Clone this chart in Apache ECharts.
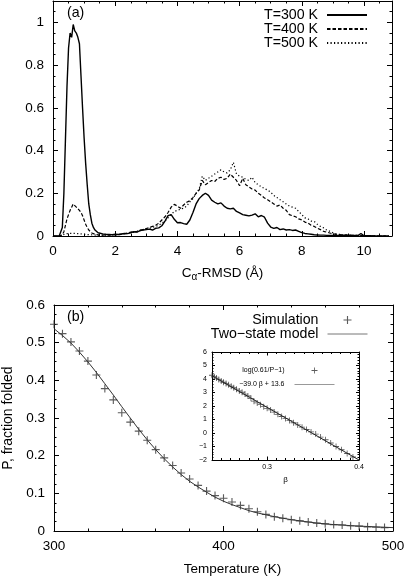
<!DOCTYPE html>
<html><head><meta charset="utf-8">
<script src="https://cdn.jsdelivr.net/npm/echarts@6/dist/echarts.min.js"></script>
<style>html,body{margin:0;padding:0;background:#fff}#c{width:408px;height:576px}</style>
</head><body><div id="c"></div>
<script>
// ---------- panel (a): C-alpha RMSD distributions ----------
const rmsd = [0,0.05,0.1,0.15,0.2,0.25,0.3,0.35,0.4,0.45,0.5,0.55,0.6,0.65,0.7,0.75,0.8,0.85,0.9,0.95,1.0,1.05,1.1,1.15,1.2,1.25,1.3,1.35,1.4,1.45,1.5,
  1.6,1.7,1.8,1.9,2.0,2.1,2.2,2.3,2.4,2.5,2.6,2.7,2.8,2.9,3.0,3.1,3.2,3.3,3.4,3.5,3.6,3.7,3.8,3.9,4.0,
  4.1,4.2,4.3,4.4,4.5,4.6,4.7,4.8,4.9,5.0,5.1,5.2,5.3,5.4,5.5,5.6,5.7,5.8,5.9,6.0,
  6.1,6.2,6.3,6.4,6.5,6.6,6.7,6.8,6.9,7.0,7.1,7.2,7.3,7.4,7.5,7.6,7.7,7.8,7.9,8.0,
  8.1,8.2,8.3,8.4,8.5,8.6,8.7,8.8,8.9,9.0,9.1,9.2,9.3,9.4,9.5,9.6,9.7,9.8,9.9,10.0,
  10.1,10.2,10.3,10.4,10.5,10.6,10.7,10.8];
const p300 = [0,0,0,0,0,0.005,0.04,0.2,0.45,0.7,0.88,0.95,0.93,0.99,0.96,0.95,0.93,0.9,0.75,0.6,0.46,0.34,0.24,0.15,0.1,0.06,0.04,0.028,0.02,0.015,0.012,
  0.01,0.008,0.007,0.006,0.008,
  0.007,0.01,0.012,0.011,0.016,0.02,0.018,0.025,0.028,0.03,
  0.032,0.028,0.036,0.038,0.048,0.07,0.095,0.1,0.078,0.062,
  0.063,0.058,0.055,0.075,0.11,0.15,0.175,0.19,0.2,0.19,
  0.168,0.158,0.15,0.155,0.14,0.13,0.127,0.13,0.115,0.108,
  0.1,0.097,0.094,0.098,0.104,0.09,0.096,0.088,0.06,0.042,
  0.036,0.04,0.03,0.033,0.028,0.03,0.026,0.028,0.022,0.016,
  0.012,0.01,0.008,0.006,0.005,0.004,0.004,0.003,0.003,0.003,
  0.002,0.003,0.002,0.002,0.002,0.001,0.002,0.001,0.012,0.001,
  0.001,0.001,0,0,0,0,0,0];
const p400 = [0,0,0,0,0,0,0.005,0.02,0.05,0.08,0.1,0.12,0.135,0.15,0.148,0.135,0.128,0.12,0.11,0.095,0.075,0.055,0.04,0.028,0.02,0.014,0.01,0.008,0.006,0.005,0.005,
  0.004,0.005,0.004,0.006,0.005,
  0.006,0.008,0.01,0.014,0.018,0.02,0.022,0.028,0.03,0.035,
  0.04,0.045,0.05,0.06,0.075,0.09,0.11,0.135,0.148,0.14,
  0.13,0.145,0.158,0.165,0.18,0.2,0.215,0.26,0.24,0.25,
  0.26,0.255,0.27,0.275,0.265,0.27,0.29,0.275,0.26,0.235,
  0.27,0.24,0.23,0.22,0.215,0.2,0.19,0.178,0.17,0.16,
  0.15,0.14,0.145,0.13,0.12,0.1,0.095,0.09,0.08,0.075,
  0.065,0.06,0.05,0.045,0.036,0.03,0.022,0.018,0.014,0.01,
  0.008,0.007,0.005,0.005,0.004,0.004,0.003,0.003,0.002,0.002,
  0.002,0.001,0.001,0,0,0,0,0];
const p500 = [0,0,0,0,0,0,0.004,0.008,0.01,0.01,0.012,0.01,0.012,0.011,0.012,0.01,0.011,0.01,0.01,0.009,0.008,0.008,0.007,0.006,0.006,0.005,0.005,0.005,0.004,0.004,0.004,
  0.004,0.004,0.005,0.005,0.006,
  0.006,0.008,0.01,0.012,0.015,0.018,0.02,0.025,0.03,0.033,
  0.036,0.04,0.045,0.05,0.06,0.07,0.085,0.1,0.115,0.12,
  0.125,0.13,0.14,0.16,0.175,0.2,0.22,0.28,0.26,0.27,
  0.28,0.29,0.3,0.31,0.3,0.295,0.31,0.345,0.29,0.28,
  0.275,0.265,0.26,0.275,0.25,0.24,0.23,0.222,0.215,0.205,
  0.19,0.18,0.17,0.16,0.15,0.14,0.135,0.13,0.115,0.1,
  0.085,0.08,0.07,0.068,0.055,0.045,0.038,0.028,0.022,0.015,
  0.01,0.008,0.006,0.005,0.004,0.004,0.003,0.003,0.002,0.002,
  0.001,0.001,0,0,0,0,0,0];

// ---------- panel (b): fraction folded ----------
const simT = [300,305,310,315,320,325,330,335,340,345,350,355,360,365,370,375,380,385,390,395,
  400,405,410,415,420,425,430,435,440,445,450,455,460,465,470,475,480,485,490,495];
const simP = [0.549,0.524,0.502,0.478,0.451,0.414,0.378,0.348,0.314,0.289,0.265,0.241,0.216,0.194,0.174,0.154,0.138,0.121,0.106,0.094,
  0.087,0.077,0.068,0.059,0.051,0.044,0.038,0.034,0.030,0.027,0.024,0.021,0.019,0.017,0.016,0.014,0.013,0.011,0.010,0.009];
const modelT = [300,305,310,315,320,325,330,335,340,345,350,355,360,365,370,375,380,385,390,395,
  400,405,410,415,420,425,430,435,440,445,450,455,460,465,470,475,480,485,490,495,500];
const modelP = [0.537,0.519,0.499,0.475,0.449,0.421,0.391,0.361,0.330,0.300,0.270,0.242,0.216,0.192,0.170,0.150,0.132,0.117,0.103,0.090,
  0.079,0.070,0.062,0.054,0.048,0.043,0.038,0.034,0.030,0.027,0.024,0.021,0.019,0.017,0.016,0.014,0.013,0.012,0.011,0.010,0.009];

// ---------- inset ----------
const beta = [0.4,0.3934,0.3871,0.381,0.375,0.3692,0.3636,0.3582,0.3529,0.3478,0.3429,0.338,0.3333,0.3288,0.3243,0.32,0.3158,0.3117,0.3077,0.3038,
  0.3,0.2963,0.2927,0.2892,0.2857,0.2824,0.2791,0.2759,0.2727,0.2697,0.2667,0.2637,0.2609,0.2581,0.2553,0.2526,0.25,0.2474,0.2449,0.2424,0.24];
const logRatio = [-2.05,-1.78,-1.52,-1.24,-1.0,-0.74,-0.5,-0.3,-0.08,0.08,0.26,0.43,0.6,0.76,0.92,1.08,1.22,1.38,1.55,1.71,
  1.83,1.95,2.1,2.23,2.36,2.57,2.74,2.88,3.02,3.12,3.25,3.35,3.46,3.57,3.66,3.76,3.86,3.97,4.07,4.17,4.28];
const fitBeta = [0.24, 0.4];
const fitVal = [4.24, -2.0];
const insetXLabels = [0.3, 0.4];

const FONT = '"Liberation Sans", Arial, Helvetica, sans-serif';
const FS = 13.5;
const LFS = 14.2;
const PLUS = 'path://M4.3,0H5.7V4.3H10V5.7H5.7V10H4.3V5.7H0V4.3H4.3Z';
const CLEAR = 'rgba(0,0,0,0)';

function axisSet(dim, grid, min, max, majorOpt, minorInterval, label, majorLen, minorLen, nameOpt) {
  const posA = dim === 'x' ? 'bottom' : 'left';
  const posB = dim === 'x' ? 'top' : 'right';
  const line = {show: true, onZero: false, lineStyle: {color: '#000', width: 1}};
  const mk = (pos, isMajor, withLabel) => {
    const a = {type: 'value', gridIndex: grid, min: min, max: max, position: pos,
      splitLine: {show: false},
      axisLine: isMajor ? line : {show: false, onZero: false},
      axisTick: Object.assign({show: true, inside: true, length: isMajor ? majorLen : minorLen,
        lineStyle: {color: '#000', width: 1}}, isMajor ? (majorOpt.tick || {}) : {}),
      axisLabel: withLabel ? label : {show: false}};
    if (isMajor) { if (majorOpt.interval != null) a.interval = majorOpt.interval; }
    else a.interval = minorInterval;
    if (withLabel && nameOpt) Object.assign(a, nameOpt);
    return a;
  };
  return [mk(posA, true, true), mk(posA, false, false), mk(posB, true, false), mk(posB, false, false)];
}

const lab = (extra) => Object.assign({color: '#000', fontSize: FS, fontFamily: FONT}, extra || {});

const xAxes = [].concat(
  axisSet('x', 0, 0, 10.9, {interval: 2}, 0.5, lab({margin: 8, showMaxLabel: false}), 5, 2.5,
    {name: 'C{s|α}-RMSD (Å)', nameLocation: 'middle', nameGap: 28,
     nameTextStyle: {color: '#000', fontSize: FS, fontFamily: FONT,
       rich: {s: {fontSize: 10, fontFamily: FONT, color: '#000', padding: [8, 0, 0, 0]}}}}),
  axisSet('x', 1, 300, 500, {interval: 100}, 20, lab({margin: 8}), 5, 2.5,
    {name: 'Temperature (K)', nameLocation: 'middle', nameGap: 31,
     nameTextStyle: {color: '#000', fontSize: FS, fontFamily: FONT, padding: [0, 0, 0, 18]}}),
  axisSet('x', 2, 0.24, 0.4, {tick: {customValues: insetXLabels}}, 0.01,
    lab({fontSize: 7, margin: 4, customValues: insetXLabels}), 3.5, 2,
    {name: 'β', nameLocation: 'middle', nameGap: 16,
     nameTextStyle: {color: '#000', fontSize: 8, fontFamily: FONT}})
);
const yAxes = [].concat(
  axisSet('y', 0, 0, 1.1, {interval: 0.2}, 0.05, lab({margin: 9, showMaxLabel: false}), 5, 2.5, null),
  axisSet('y', 1, 0, 0.6, {interval: 0.1}, 0.025, lab({margin: 9}), 5, 2.5,
    {name: 'P, fraction folded', nameLocation: 'middle', nameGap: 31,
     nameTextStyle: {color: '#000', fontSize: 14, fontFamily: FONT}}),
  axisSet('y', 2, -2, 6, {interval: 1}, 0.2,
    lab({fontSize: 7, margin: 5, formatter: v => String(v).replace('-', '\u2212')}), 3, 1.5, null)
);

const lineItem = (n, lc, lw) => {
  const o = {name: n, itemStyle: {opacity: 0, color: CLEAR, borderColor: CLEAR}};
  if (lc) o.lineStyle = {color: lc, width: lw || 1};
  return o;
};

const option = {
  animation: false,
  backgroundColor: '#fff',
  grid: [
    {left: 53, top: 1, width: 339, height: 235, outerBoundsMode: 'none'},
    {left: 54, top: 305, width: 339, height: 226, outerBoundsMode: 'none'},
    {left: 212, top: 352, width: 147, height: 108, outerBoundsMode: 'none', show: true,
     backgroundColor: '#fff', borderWidth: 0}
  ],
  xAxis: xAxes,
  yAxis: yAxes,
  legend: [
    {data: [lineItem('T=300 K'), lineItem('T=400 K'), lineItem('T=500 K')], orient: 'vertical', align: 'right', right: 35, top: 3,
     itemWidth: 40, itemHeight: 10, itemGap: 0, selectedMode: false,
     textStyle: {color: '#000', fontSize: LFS, fontFamily: FONT, padding: [0, 4, 0, 0]}},
    {data: [{name: 'Simulation', icon: PLUS}, lineItem('Two\u2212state model', '#777', 1)], orient: 'vertical', align: 'right',
     right: 35, top: 308, itemWidth: 40, itemHeight: 8, itemGap: 0, selectedMode: false,
     textStyle: {color: '#000', fontSize: LFS, fontFamily: FONT, padding: [0, 4, 0, 0]}},
    {data: [{name: 'log(0.61/P\u22121)', icon: PLUS}, lineItem('\u221239.0 \u03b2 + 13.6', '#999', 1)], orient: 'vertical', align: 'right',
     right: 68, top: 362, itemWidth: 40, itemHeight: 6, itemGap: 7, selectedMode: false,
     textStyle: {color: '#000', fontSize: 7, fontFamily: FONT, padding: [0, 5, 0, 0]}}
  ],
  graphic: [
    {type: 'text', left: 67, top: 6, style: {text: '(a)', fill: '#000', font: LFS + 'px ' + FONT}},
    {type: 'text', left: 67, top: 310, style: {text: '(b)', fill: '#000', font: LFS + 'px ' + FONT}}
  ],
  series: [
    {type: 'line', name: 'T=300 K', xAxisIndex: 0, yAxisIndex: 0, symbol: 'none',
     data: rmsd.map((x, i) => [x, p300[i]]),
     lineStyle: {color: '#000', width: 1.4, type: 'solid'}, itemStyle: {color: '#000'}},
    {type: 'line', name: 'T=400 K', xAxisIndex: 0, yAxisIndex: 0, symbol: 'none',
     data: rmsd.map((x, i) => [x, p400[i]]),
     lineStyle: {color: '#000', width: 1.2, type: [3.5, 2]}, itemStyle: {color: '#000'}},
    {type: 'line', name: 'T=500 K', xAxisIndex: 0, yAxisIndex: 0, symbol: 'none',
     data: rmsd.map((x, i) => [x, p500[i]]),
     lineStyle: {color: '#000', width: 1.2, type: [1.2, 2.3]}, itemStyle: {color: '#000'}},
    {type: 'line', name: 'Two\u2212state model', xAxisIndex: 4, yAxisIndex: 4, symbol: 'none',
     data: modelT.map((t, i) => [t, modelP[i]]),
     lineStyle: {color: '#333', width: 1}, itemStyle: {color: '#555'}},
    {type: 'scatter', name: 'Simulation', xAxisIndex: 4, yAxisIndex: 4, symbol: PLUS, symbolSize: 8,
     data: simT.map((t, i) => [t, simP[i]]),
     itemStyle: {color: '#333'}},
    {type: 'line', name: '\u221239.0 \u03b2 + 13.6', xAxisIndex: 8, yAxisIndex: 8, symbol: 'none',
     data: fitBeta.map((b, i) => [b, fitVal[i]]),
     lineStyle: {color: '#222', width: 1}, itemStyle: {color: '#888'}},
    {type: 'scatter', name: 'log(0.61/P\u22121)', xAxisIndex: 8, yAxisIndex: 8, symbol: PLUS, symbolSize: 6,
     data: beta.map((b, i) => [b, logRatio[i]]),
     itemStyle: {color: '#333'}}
  ]
};
const chart = echarts.init(document.getElementById('c'), null, {renderer: 'canvas'});
chart.setOption(option);
</script>
</body></html>
